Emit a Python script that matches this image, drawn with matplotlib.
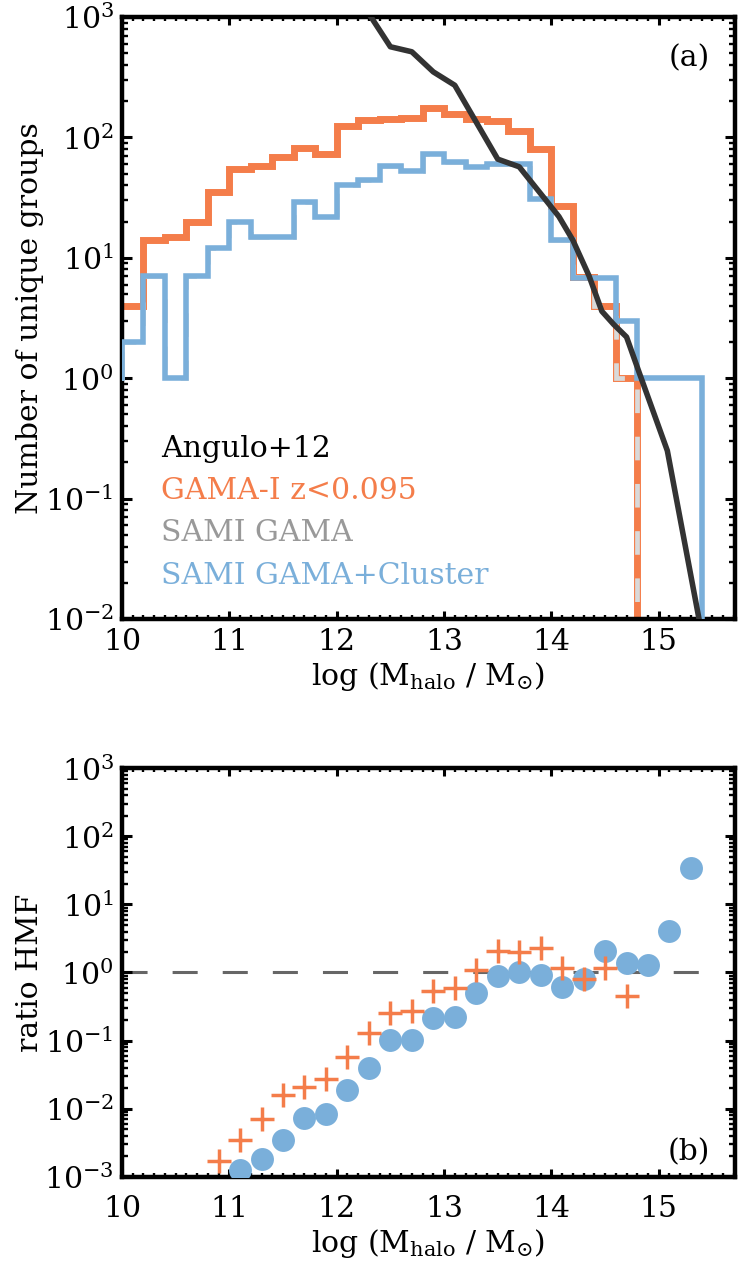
import numpy as np
import matplotlib
matplotlib.use('Agg')
import matplotlib.pyplot as plt
from matplotlib.ticker import LogLocator, MultipleLocator, NullFormatter

plt.rcParams['font.family'] = ['DejaVu Serif']
plt.rcParams['mathtext.fontset'] = 'dejavuserif'
plt.rcParams['font.size'] = 21.5

# ---------------- data ----------------
bin_edges = np.round(np.arange(9.8, 15.8 + 0.01, 0.2), 1)   # 0.2 dex bins

gama_counts = [4, 4, 14, 15, 20, 35, 55, 58, 69, 81, 73, 124, 140, 143, 146,
               175, 157, 143, 137, 114, 80, 27, 6.9, 4, 1, 0, 0, 0, 0, 0]
sami_counts = [1, 2, 7, 1, 7, 12, 20, 15, 15, 29, 22, 40, 44, 58, 53,
               73, 62, 57, 60, 60, 31, 14, 6.9, 4, 1, 0, 0, 0, 0, 0]
sami_cluster_counts = [1, 2, 7, 1, 7, 12, 20, 15, 15, 29, 22, 40, 44, 58, 53,
                       73, 62, 57, 60, 60, 31, 14, 6.8, 6.8, 3.0, 1, 1, 1, 0, 0]

angulo_x = [12.1, 12.5, 12.7, 12.9, 13.1, 13.5, 13.7, 13.95, 14.07, 14.2,
            14.35, 14.47, 14.58, 14.7, 14.82, 15.08, 15.38]
angulo_y = [2000, 566, 514, 350, 271, 66, 57, 30, 22, 14,
            7.1, 3.6, 2.8, 2.2, 1.1, 0.25, 0.0095]

ratio_gama_x = [10.9, 11.1, 11.3, 11.5, 11.7, 11.9, 12.1, 12.3, 12.5, 12.7,
                12.9, 13.1, 13.3, 13.5, 13.7, 13.9, 14.1, 14.3, 14.5, 14.7]
ratio_gama = [1.7e-3, 3.5e-3, 7.1e-3, 0.016, 0.0206, 0.0273, 0.058, 0.128, 0.252, 0.27,
              0.526, 0.595, 1.08, 2.06, 1.99, 2.27, 1.17, 0.79, 1.16, 0.45]

ratio_sami_x = [11.1, 11.3, 11.5, 11.7, 11.9, 12.1, 12.3, 12.5, 12.7, 12.9, 13.1,
                13.3, 13.5, 13.7, 13.9, 14.1, 14.3, 14.5, 14.7, 14.9, 15.1, 15.3]
ratio_sami = [1.26e-3, 1.8e-3, 3.5e-3, 7.4e-3, 8.3e-3, 0.0188, 0.04, 0.103, 0.102, 0.213, 0.225,
              0.497, 0.9, 1.01, 0.93, 0.61, 0.79, 2.04, 1.37, 1.27, 4.05, 34.6]

# ---------------- style ----------------
ORANGE = '#F47D4A'
BLUE = '#7AAFDA'
GRAY_LINE = '#D9D9D9'
GRAY_TEXT = '#999999'
BLACK_LINE = '#333333'
FLOOR = 1e-5

def floor(v):
    v = np.asarray(v, dtype=float)
    return np.where(v > 0, v, FLOOR)

fig = plt.figure(figsize=(7.47, 12.68), dpi=100)
ax1 = fig.add_axes([0.1633, 0.5118, 0.8206, 0.4748])
ax2 = fig.add_axes([0.1633, 0.0720, 0.8206, 0.3221])

# ---------------- top panel ----------------
ax1.stairs(floor(gama_counts), bin_edges, baseline=None, color=ORANGE, lw=5.0, zorder=2)
ax1.stairs(floor(sami_counts), bin_edges, baseline=None, color=GRAY_LINE, lw=3.4,
           linestyle=(0, (5.0, 5.0)), zorder=3)
ax1.stairs(floor(sami_cluster_counts), bin_edges, baseline=None, color=BLUE, lw=4.0, zorder=4)
ax1.plot(angulo_x, angulo_y, color=BLACK_LINE, lw=4.0, zorder=5)

ax1.set_ylim(0.01, 1000)
ax1.set_ylabel('Number of unique groups')
ax1.set_xlabel(r'log (M$_{\rm halo}$ / M$_{\odot}$)')

legend_items = [('Angulo+12', 'black', 0.269),
                ('GAMA-I z<0.095', ORANGE, 0.199),
                ('SAMI GAMA', GRAY_TEXT, 0.130),
                ('SAMI GAMA+Cluster', BLUE, 0.058)]
for txt, col, yy in legend_items:
    ax1.text(0.0635, yy, txt, color=col, transform=ax1.transAxes, va='baseline', ha='left')
ax1.text(0.959, 0.932, '(a)', transform=ax1.transAxes, ha='right', va='center')

# ---------------- bottom panel ----------------
ax2.plot([10.0, 15.5], [1, 1], color='#666666', lw=2.2, linestyle=(0, (8.2, 8.2)), zorder=1)
ax2.plot(ratio_sami_x, ratio_sami, 'o', color=BLUE, ms=16.5, mec='none', zorder=3)
ax2.plot(ratio_gama_x, ratio_gama, '+', color=ORANGE, ms=17, mew=2.5, zorder=4)
ax2.set_ylim(1e-3, 1e3)
ax2.set_ylabel('ratio HMF')
ax2.set_xlabel(r'log (M$_{\rm halo}$ / M$_{\odot}$)')
ax2.text(0.959, 0.06, '(b)', transform=ax2.transAxes, ha='right', va='center')

for ax in (ax1, ax2):
    ax.set_xlim(10, 15.71)
    ax.set_yscale('log')
    ax.xaxis.set_major_locator(MultipleLocator(1))
    ax.xaxis.set_minor_locator(MultipleLocator(0.1))
    ax.yaxis.set_major_locator(LogLocator(base=10, numticks=20))
    ax.yaxis.set_minor_locator(LogLocator(base=10, subs=np.arange(2, 10), numticks=20))
    ax.yaxis.set_minor_formatter(NullFormatter())
    ax.tick_params(which='both', direction='in', top=True, right=True)
    ax.tick_params(axis='x', which='major', length=6, width=2.2)
    ax.tick_params(axis='x', which='minor', length=3, width=1.7)
    ax.tick_params(axis='y', which='major', length=7.5, width=2.2, pad=6)
    ax.tick_params(axis='y', which='minor', length=4.5, width=1.7)
    for s in ax.spines.values():
        s.set_linewidth(3.2)
    ax.yaxis.set_label_coords(-0.127, 0.5)

ax1.tick_params(axis='x', which='major', pad=6.5)
ax2.tick_params(axis='x', which='major', pad=13.5)
ax1.xaxis.set_label_coords(0.5, -0.068)
ax2.xaxis.set_label_coords(0.5, -0.122)

fig.savefig('out.png', dpi=100, facecolor='white')
